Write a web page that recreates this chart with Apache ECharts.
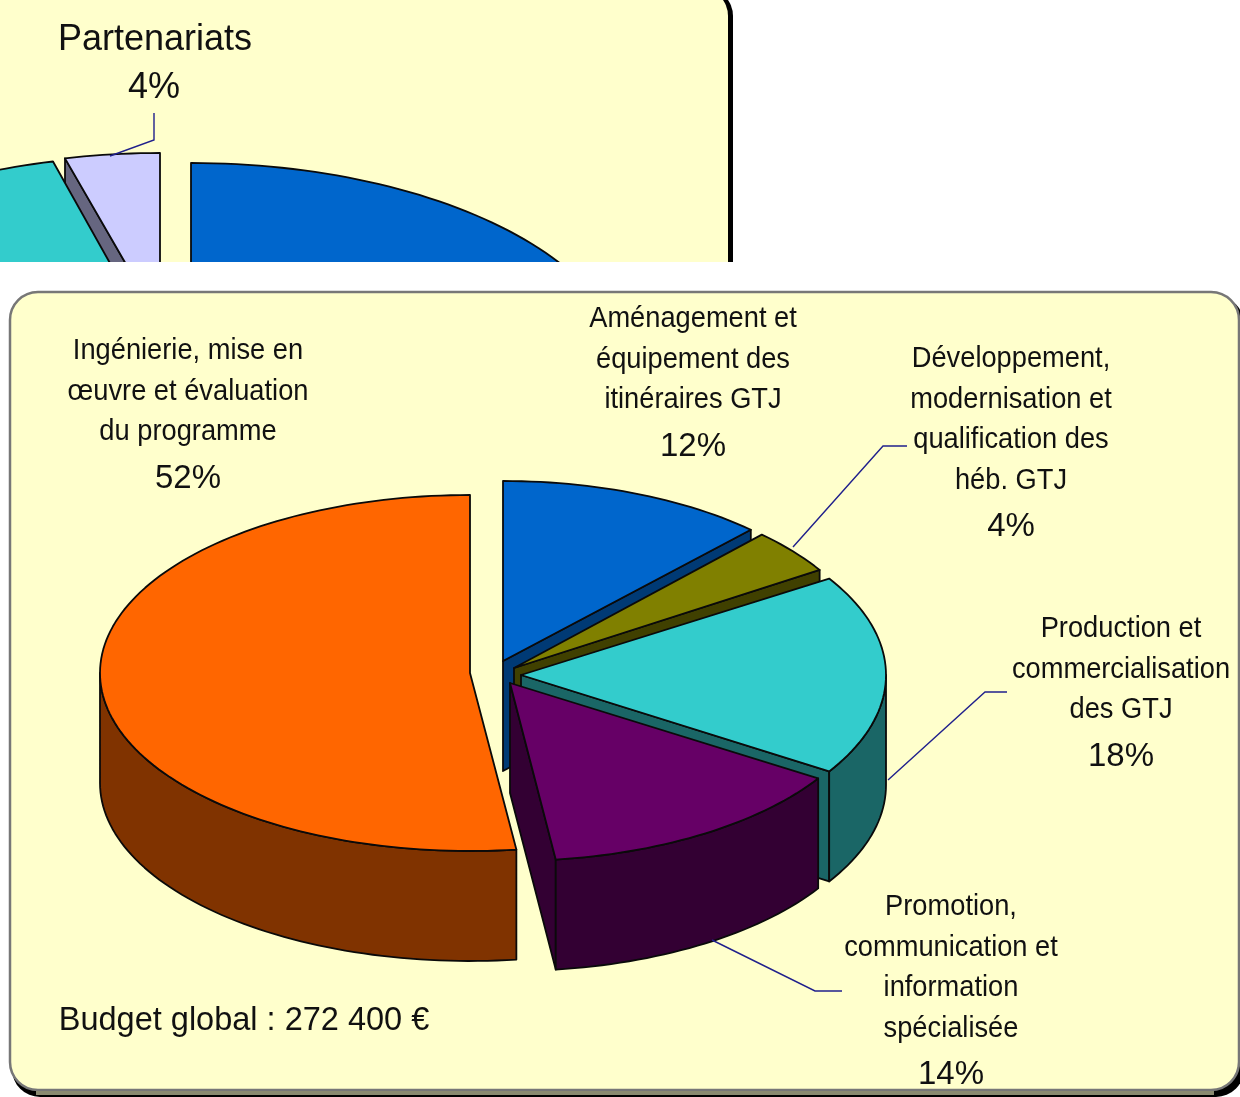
<!DOCTYPE html>
<html><head><meta charset="utf-8">
<style>html,body{margin:0;padding:0;background:#fff}#c{width:1240px;height:1097px}</style>
<script src="https://cdn.jsdelivr.net/npm/echarts@6/dist/echarts.min.js"></script>
</head><body><div id="c"></div>
<script>
// ---- data ----
const mainNames = ['Aménagement et\néquipement des\nitinéraires GTJ',
  'Développement,\nmodernisation et\nqualification des\nhéb. GTJ',
  'Production et\ncommercialisation\ndes GTJ',
  'Promotion,\ncommunication et\ninformation\nspécialisée',
  'Ingénierie, mise en\nœuvre et évaluation\ndu programme'];
const mainValues = [12, 4, 18, 14, 52];
const mainColors = ['#0066CC', '#808000', '#33CCCC', '#660066', '#FF6600'];
const mainDark = ['#003A75', '#404000', '#1A6666', '#330033', '#803300'];
const topNames = ['', '', 'Partenariats'];
const topValues = [36, 60, 4];          // only the 4% is legible: the others run off the crop
const topColors = ['#0066CC', '#33CCCC', '#CCCCFF'];
const topDark = ['#003A75', '#1A6666', '#666680'];
const budgetText = 'Budget global : 272 400 €';

// ---- layout ----
const mainGeo = [
  {cx: 503, cy: 661, rx: 362, ry: 180}, {cx: 514, cy: 668, rx: 362, ry: 183},
  {cx: 521, cy: 675, rx: 365, ry: 180}, {cx: 510, cy: 683, rx: 365, ry: 178},
  {cx: 470, cy: 673, rx: 370, ry: 178}];
const mainDepth = 110;
const topGeo = [
  {cx: 191, cy: 383, rx: 440, ry: 220}, {cx: 148, cy: 331, rx: 382, ry: 175},
  {cx: 160, cy: 323, rx: 382, ry: 170}];
const topDepth = 110;
const mainOrder = [0, 1, 2, 3, 4];
const topOrder = [0, 2, 1];
const mainLabelPos = [[693, 319], [1011, 359], [1121, 629], [951, 907], [188, 351]];
const FONT = '"Liberation Sans", Arial, sans-serif';
const LH = 40.5;

function ringPt(g, deg, dy) {
  const a = deg * Math.PI / 180;
  return [g.cx + g.rx * Math.sin(a), g.cy - g.ry * Math.cos(a) + (dy || 0)];
}
function arcPts(g, a0, a1, dy) {
  const n = Math.max(2, Math.ceil(Math.abs(a1 - a0) / 1.5)), r = [];
  for (let i = 0; i <= n; i++) r.push(ringPt(g, a0 + (a1 - a0) * i / n, dy));
  return r;
}
const edge = '#0a0a0a';
function poly(points, fill, z2) {
  return {type: 'polygon', shape: {points}, z2,
    style: {fill, stroke: edge, lineWidth: 1.8, lineJoin: 'round'}};
}
function pieSeries(values, geo, colors, dark, depth, order, z) {
  const total = values.reduce((a, b) => a + b, 0);
  const cum = [0];
  values.forEach(v => cum.push(cum[cum.length - 1] + v));
  return {
    type: 'custom', coordinateSystem: 'none', z, silent: true, animation: false,
    data: values.map(v => [v]),
    renderItem(params, api) {
      const i = params.dataIndex;
      const a0 = cum[i] / total * 360, a1 = a0 + api.value(0) / total * 360;
      const g = geo[i], c = [g.cx, g.cy], kids = [];
      const base = order[i] * 3;
      // radial cut walls that face the viewer
      [a0, a1].forEach(a => {
        const p = ringPt(g, a);
        const faces = (a === a1 && a < 180) || (a === a0 && a > 180);
        if (faces) kids.push(poly([c, p, [p[0], p[1] + depth], [c[0], c[1] + depth]], dark[i], base));
      });
      // outer wall: the front half of the rim
      const f0 = Math.max(a0, 90), f1 = Math.min(a1, 270);
      if (f1 > f0) {
        kids.push(poly(arcPts(g, f0, f1, 0).concat(arcPts(g, f1, f0, depth)), dark[i], base + 1));
      }
      kids.push(poly([c].concat(arcPts(g, a0, a1, 0)), colors[i], base + 2));
      return {type: 'group', children: kids};
    }
  };
}
function leader(pts, z) {
  return {type: 'polyline', z, silent: true, shape: {points: pts},
    style: {fill: 'none', stroke: '#20208C', lineWidth: 1.4}};
}
function label(text, x, y, z, size, sx) {
  return {type: 'text', z, silent: true, x, y, scaleX: sx || 1, style: {text, x: 0, y: 0, fill: '#111',
    font: (size || 29) + 'px ' + FONT, align: 'center', verticalAlign: 'middle', lineHeight: LH}};
}
function block(name, value, pos, z) {
  const lines = name.split('\n');
  const out = [];
  lines.forEach((t, k) => out.push(label(t, pos[0], pos[1] + k * LH, z, 29, 0.94)));
  out.push(label(value + '%', pos[0], pos[1] + lines.length * LH + 6, z, 33));
  return out;
}

const gfx = [
  // top card
  {type: 'rect', z: 0, silent: true, shape: {x: -40, y: -12, width: 773, height: 320, r: 28},
    style: {fill: '#000'}},
  {type: 'rect', z: 0, silent: true, shape: {x: -40, y: -12, width: 768, height: 320, r: 28},
    style: {fill: '#FFFFCC'}},
  // white area that crops the top card
  {type: 'rect', z: 20, silent: true, shape: {x: 0, y: 262, width: 1240, height: 835}, style: {fill: '#fff'}},
  // main card: shadow then face
  {type: 'rect', z: 21, silent: true, shape: {x: 12, y: 296, width: 1232, height: 801, r: 28},
    style: {fill: '#000'}},
  {type: 'rect', z: 22, silent: true, shape: {x: 10, y: 292, width: 1229, height: 798, r: 28},
    style: {fill: '#FFFFCC', stroke: '#777', lineWidth: 2.5}},
  {type: 'rect', z: 22, silent: true, shape: {x: 36, y: 1091, width: 1178, height: 4}, style: {fill: '#8a8a70'}},
  // leader lines
  leader([[793, 547], [883, 446], [907, 446]], 40),
  leader([[888, 780], [985, 692], [1007, 692]], 40),
  leader([[712, 940], [815, 991], [842, 991]], 40),
  leader([[110, 156], [154, 140], [154, 113]], 12),
  // texts
  label(budgetText, 244, 1021, 40, 33, 0.985),
  label(topNames[2], 155, 40, 12, 36),
  label(topValues[2] + '%', 154, 88, 12, 36)
];
mainNames.forEach((n, i) => block(n, mainValues[i], mainLabelPos[i], 40).forEach(e => gfx.push(e)));

const chart = echarts.init(document.getElementById('c'), null, {renderer: 'canvas', width: 1240, height: 1097});
chart.setOption({
  animation: false,
  backgroundColor: '#fff',
  graphic: {elements: gfx},
  series: [
    pieSeries(topValues, topGeo, topColors, topDark, topDepth, topOrder, 5),
    pieSeries(mainValues, mainGeo, mainColors, mainDark, mainDepth, mainOrder, 30)
  ]
});
</script></body></html>
